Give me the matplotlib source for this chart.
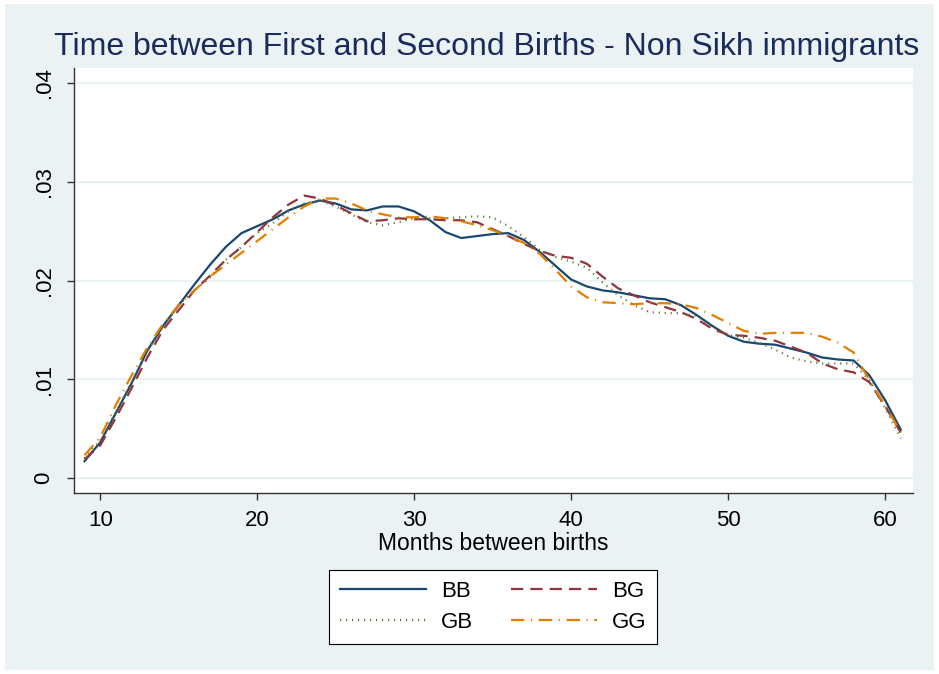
import numpy as np
import matplotlib
matplotlib.use("Agg")
import matplotlib.pyplot as plt
from matplotlib.patches import Rectangle
from matplotlib.ticker import FuncFormatter

plt.rcParams["font.family"] = ["Liberation Sans", "DejaVu Sans"]

# months between first and second birth
months = list(range(9, 62))

# density estimates, one per birth-order sex combination
bb = [0.0017, 0.0036, 0.0066, 0.0096, 0.0129, 0.0154, 0.0175, 0.0196, 0.0216, 0.0234,
      0.0248, 0.0255, 0.0262, 0.0271, 0.0277, 0.0281, 0.0278, 0.0272, 0.0271, 0.0275,
      0.0275, 0.0270, 0.0261, 0.0249, 0.0243, 0.0245, 0.0247, 0.0248, 0.0241, 0.0229,
      0.0215, 0.0201, 0.0194, 0.0190, 0.0188, 0.0185, 0.0182, 0.0181, 0.0175, 0.0165,
      0.0154, 0.0144, 0.0138, 0.0136, 0.0135, 0.0131, 0.0127, 0.0122, 0.0120, 0.0119,
      0.0104, 0.0079, 0.0049]
bg = [0.0019, 0.0033, 0.0061, 0.0091, 0.0122, 0.0150, 0.0170, 0.0190, 0.0205, 0.0221,
      0.0234, 0.0249, 0.0264, 0.0277, 0.0286, 0.0283, 0.0276, 0.0268, 0.0260, 0.0261,
      0.0263, 0.0262, 0.0262, 0.0261, 0.0261, 0.0259, 0.0252, 0.0245, 0.0237, 0.0230,
      0.0225, 0.0223, 0.0217, 0.0204, 0.0192, 0.0185, 0.0178, 0.0173, 0.0168, 0.0161,
      0.0151, 0.0145, 0.0144, 0.0142, 0.0139, 0.0133, 0.0127, 0.0116, 0.0110, 0.0107,
      0.0097, 0.0073, 0.0046]
gb = [0.0020, 0.0038, 0.0067, 0.0097, 0.0128, 0.0153, 0.0175, 0.0190, 0.0203, 0.0221,
      0.0234, 0.0248, 0.0258, 0.0270, 0.0278, 0.0281, 0.0275, 0.0267, 0.0259, 0.0256,
      0.0259, 0.0263, 0.0263, 0.0263, 0.0264, 0.0265, 0.0264, 0.0255, 0.0244, 0.0231,
      0.0224, 0.0219, 0.0213, 0.0198, 0.0185, 0.0175, 0.0168, 0.0167, 0.0167, 0.0164,
      0.0153, 0.0145, 0.0142, 0.0137, 0.0130, 0.0122, 0.0118, 0.0116, 0.0116, 0.0116,
      0.0099, 0.0071, 0.0040]
gg = [0.0023, 0.0041, 0.0074, 0.0104, 0.0132, 0.0156, 0.0175, 0.0190, 0.0204, 0.0216,
      0.0228, 0.0240, 0.0252, 0.0264, 0.0275, 0.0283, 0.0283, 0.0278, 0.0271, 0.0267,
      0.0264, 0.0264, 0.0265, 0.0263, 0.0260, 0.0256, 0.0251, 0.0245, 0.0238, 0.0227,
      0.0211, 0.0194, 0.0183, 0.0178, 0.0177, 0.0176, 0.0177, 0.0177, 0.0176, 0.0172,
      0.0165, 0.0157, 0.0149, 0.0146, 0.0147, 0.0147, 0.0147, 0.0143, 0.0137, 0.0127,
      0.0099, 0.0074, 0.0046]

x_ticks = [10, 20, 30, 40, 50, 60]
y_ticks = [0, 0.01, 0.02, 0.03, 0.04]

bluish = "#EAF2F3"

fig = plt.figure(figsize=(9.39, 6.74), dpi=100, facecolor="white")
# stata-like outer region, with a thin white frame round it
fig.patches.append(Rectangle((5 / 939, 4 / 674), 929 / 939, 666 / 674,
                             transform=fig.transFigure, facecolor=bluish,
                             edgecolor="none", zorder=-10))

ax = fig.add_axes([74 / 939, 1 - 493 / 674, 839 / 939, 425 / 674])
ax.set_facecolor("white")

l_bb, = ax.plot(months, bb, color="#1A476F", lw=1.6, label="BB")
l_bg, = ax.plot(months, bg, color="#90353B", lw=1.6, dashes=(5.5, 3.2), label="BG")
l_gb, = ax.plot(months, gb, color="#55752F", lw=1.6, dashes=(0.5, 2.2), label="GB")
l_gg, = ax.plot(months, gg, color="#E37E00", lw=1.6, dashes=(6, 3, 0.5, 3), label="GG")

ax.set_xlim(8.33, 61.78)
ax.set_ylim(-0.00152, 0.04152)
ax.set_xticks(x_ticks)
ax.set_yticks(y_ticks)
ax.yaxis.set_major_formatter(FuncFormatter(lambda v, p: "0" if v == 0 else ("%.2f" % v).lstrip("0")))
ax.grid(axis="y", color=bluish, lw=1.6, zorder=0)
ax.set_axisbelow(True)

for s in ["top", "right"]:
    ax.spines[s].set_visible(False)
for s in ["left", "bottom"]:
    ax.spines[s].set_color("#333333")
    ax.spines[s].set_linewidth(1.0)

ax.tick_params(axis="x", length=5, width=1, color="#333333", labelsize=16, pad=7)
ax.tick_params(axis="y", length=5, width=1, color="#333333", labelsize=16, pad=9)
for lab in ax.get_yticklabels():
    lab.set_rotation(90)
    lab.set_va("center")

ax.set_xlabel("Months between births", fontsize=16.5, labelpad=1)

fig.text(487 / 939, 1 - 47 / 674, "Time between First and Second Births - Non Sikh immigrants",
         ha="center", va="center", fontsize=23, color="#1A2B5C")

# stata fills the legend row by row: BB BG / GB GG
leg = fig.legend([l_bb, l_gb, l_bg, l_gg], ["BB", "GB", "BG", "GG"],
                 loc="center", bbox_to_anchor=(493 / 939, 1 - 607 / 674), ncol=2,
                 fontsize=16, frameon=True, fancybox=False, framealpha=1,
                 handlelength=3.9, columnspacing=1.7, handletextpad=0.65,
                 borderpad=0.5, labelspacing=0.45)
leg.get_frame().set_edgecolor("black")
leg.get_frame().set_facecolor("white")
leg.get_frame().set_linewidth(0.8)

fig.savefig("out.png", dpi=100, facecolor=fig.get_facecolor())
